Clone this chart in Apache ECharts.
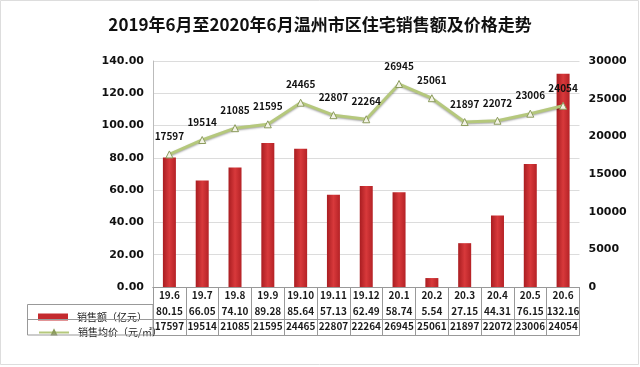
<!DOCTYPE html>
<html>
<head>
<meta charset="utf-8">
<script src="https://cdn.jsdelivr.net/npm/echarts@6/dist/echarts.min.js"></script>
<style>html,body{margin:0;padding:0;background:#fff}#c{width:640px;height:367px}</style>
</head>
<body>
<div id="c"></div>
<script>
var titleText = '2019年6月至2020年6月温州市区住宅销售额及价格走势';
var categories = ['19.6','19.7','19.8','19.9','19.10','19.11','19.12','20.1','20.2','20.3','20.4','20.5','20.6'];
var salesName = '销售额（亿元）';
var priceName = '销售均价（元/㎡）';
var sales = [80.15, 66.05, 74.10, 89.28, 85.64, 57.13, 62.49, 58.74, 5.54, 27.15, 44.31, 76.15, 132.16];
var prices = [17597, 19514, 21085, 21595, 24465, 22807, 22264, 26945, 25061, 21897, 22072, 23006, 24054];
var leftTicks = {min: 0, max: 140, interval: 20};
var rightTicks = {min: 0, max: 30000, interval: 5000};

var chart = echarts.init(document.getElementById('c'), null, {renderer: 'canvas'});
var numFont = 'DejaVu Sans';
var cjkFont = 'Noto Sans CJK SC';
var gridLine = '#999';

var cellLabel = {fontSize: 10, fontWeight: 'bold', color: '#1a1a1a', fontFamily: cjkFont};

var barColor = new echarts.graphic.LinearGradient(0, 0, 1, 0, [
  {offset: 0, color: '#a91d21'},
  {offset: 0.5, color: '#d8393b'},
  {offset: 1, color: '#b52226'}
]);
var legendText = {fontSize: 10, color: '#222', fontFamily: cjkFont, lineHeight: 14, padding: [0, 0, 0, 4]};

var option = {
  backgroundColor: '#fff',
  animation: false,
  title: {
    text: titleText, left: 'center', top: 11,
    textStyle: {fontSize: 17, fontWeight: 'bold', color: '#111', fontFamily: cjkFont}
  },
  legend: [
    {data: [{name: salesName, icon: 'rect', itemStyle: {color: '#c42a2e'}}],
     left: 33, top: 305, orient: 'vertical', itemWidth: 30, itemHeight: 7, textStyle: legendText},
    {data: [{name: priceName}],
     left: 33, top: 320.5, orient: 'vertical', itemWidth: 30, itemHeight: 5, textStyle: legendText}
  ],
  grid: {left: 153, right: 60.5, top: 61, bottom: 80, containLabel: false},
  xAxis: [
    {type: 'category', data: categories, position: 'bottom',
     axisLine: {lineStyle: {color: gridLine}},
     axisTick: {show: true, length: 48, lineStyle: {color: gridLine}},
     axisLabel: Object.assign({margin: 3, interval: 0}, cellLabel)},
    {type: 'category', data: sales.map(function (v) { return v.toFixed(2); }), position: 'bottom', offset: 17,
     axisLine: {show: true, lineStyle: {color: gridLine}}, axisTick: {show: false},
     axisLabel: Object.assign({margin: 2, interval: 0}, cellLabel)},
    {type: 'category', data: prices.map(String), position: 'bottom', offset: 32.5,
     axisLine: {show: true, lineStyle: {color: gridLine}}, axisTick: {show: false},
     axisLabel: Object.assign({margin: 2, interval: 0}, cellLabel)},
    {type: 'category', data: categories, position: 'bottom', offset: 48,
     axisLine: {show: true, lineStyle: {color: gridLine}}, axisTick: {show: false},
     axisLabel: {show: false}}
  ],
  yAxis: [
    {type: 'value', min: leftTicks.min, max: leftTicks.max, interval: leftTicks.interval, position: 'left',
     axisLine: {show: true, lineStyle: {color: '#bbb'}}, axisTick: {show: false},
     splitLine: {lineStyle: {color: '#dcdcdc'}},
     axisLabel: {margin: 9, fontSize: 11, fontWeight: 'bold', color: '#111', fontFamily: numFont,
       formatter: function (v) { return v.toFixed(2); }}},
    {type: 'value', min: rightTicks.min, max: rightTicks.max, interval: rightTicks.interval, position: 'right',
     axisLine: {show: false}, axisTick: {show: false}, splitLine: {show: false},
     axisLabel: {margin: 9, fontSize: 11, fontWeight: 'bold', color: '#111', fontFamily: numFont,
       formatter: function (v) { return String(v); }}}
  ],
  series: [
    {name: salesName, type: 'bar', data: sales, xAxisIndex: 0, yAxisIndex: 0, barWidth: 13,
     itemStyle: {color: barColor}},
    {name: priceName, type: 'line', data: prices, xAxisIndex: 0, yAxisIndex: 1,
     symbol: 'triangle', symbolSize: 7, showAllSymbol: true,
     lineStyle: {color: '#b5c87c', width: 3, shadowColor: 'rgba(0,0,0,0.35)', shadowBlur: 2, shadowOffsetY: 1},
     itemStyle: {color: '#f3f3e6', borderColor: '#8b9b5c', borderWidth: 1},
     label: {show: true, position: 'top', distance: 9, fontSize: 10, fontWeight: 'bold', color: '#111', fontFamily: cjkFont}}
  ],
  graphic: [
    {type: 'rect', silent: true, z: 100, shape: {x: 0.5, y: 0.5, width: 638, height: 364},
     style: {fill: null, stroke: '#dddddd', lineWidth: 1}},
    {type: 'rect', silent: true, z: 100, shape: {x: 27.5, y: 304.5, width: 125.5, height: 30.5},
     style: {fill: null, stroke: gridLine, lineWidth: 1}},
    {type: 'line', silent: true, z: 100, shape: {x1: 27.5, y1: 319.5, x2: 153, y2: 319.5},
     style: {stroke: gridLine, lineWidth: 1}}
  ]
};
chart.setOption(option);
</script>
</body>
</html>
